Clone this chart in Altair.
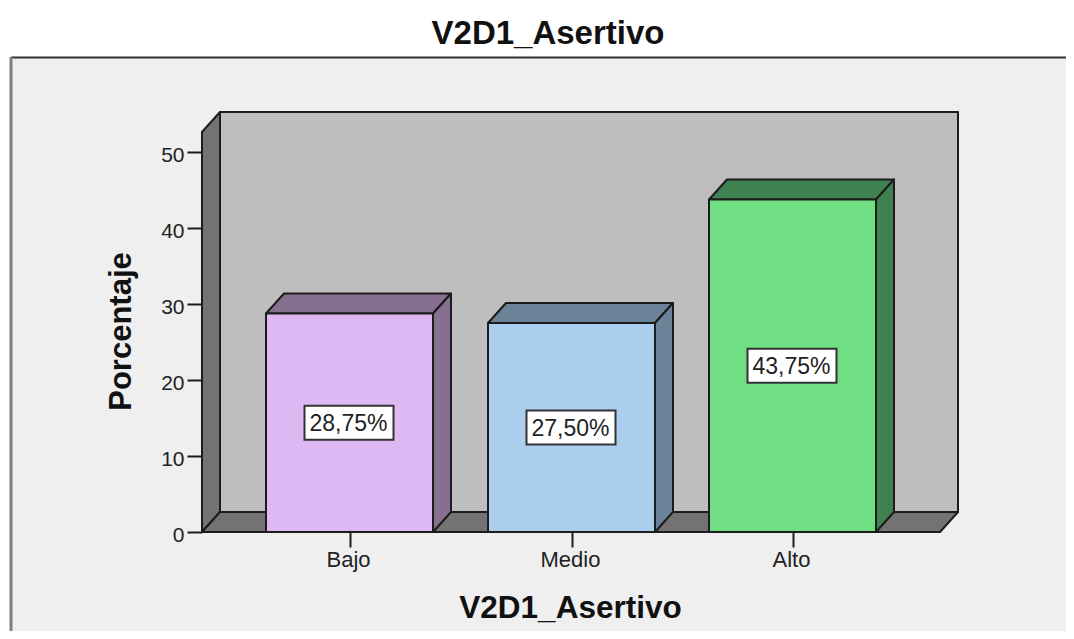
import altair as alt
import pandas as pd

categories = ["Bajo", "Medio", "Alto"]
values = [28.75, 27.50, 43.75]
labels = ["28,75%", "27,50%", "43,75%"]
front_colors = ["#DEB8F3", "#ABCEEE", "#70DE82"]
side_colors = ["#87708F", "#6B8299", "#3F8150"]
bar_left = [266, 488, 709]
y_ticks = [0, 10, 20, 30, 40, 50]

FONT = "Liberation Sans"
PX = 7.6            # pixels per percent unit
W, H = 756, 420
X0 = 202            # image x of plot-left
DX, DY = 18, 20 / PX  # 3D depth
BAR_W = 167
XMAX = X0 + W
YMAX = H / PX
LINE = "#1c1c1c"


def yimg(p):
    return (532 - p) / PX


x_scale = alt.Scale(domain=[X0, XMAX], nice=False, zero=False)
y_scale = alt.Scale(domain=[0, YMAX], nice=False)

centers = [l + BAR_W / 2 for l in bar_left]

frame = alt.Chart(pd.DataFrame([{"x": 11, "x2": 1080, "y": yimg(57), "y2": yimg(645)}])).mark_rect(
    fill="#EFEFEF", stroke=None
).encode(
    x=alt.X("x:Q", scale=x_scale, axis=alt.Axis(
        values=centers,
        labelExpr="{" + ",".join(f"'{c}':'{n}'" for c, n in zip(centers, categories)) + "}[datum.value]",
        domain=False, ticks=True, tickSize=15, tickWidth=2, tickColor=LINE, grid=False,
        labelFont=FONT, labelFontSize=22, labelColor="#222",
        labelPadding=2, labelOffset=-1.5, zindex=1,
        title="V2D1_Asertivo", titleFont=FONT, titleFontSize=31.5, titleFontWeight="bold", titleColor="#111",
        titleX=368, titleY=76, titleBaseline="middle",
    )),
    x2="x2:Q",
    y=alt.Y("y:Q", scale=y_scale, axis=alt.Axis(
        values=y_ticks, domain=False, grid=False, tickSize=15, tickWidth=2, tickColor=LINE,
        labelFont=FONT, labelFontSize=21, labelColor="#222", labelPadding=3, labelOffset=3, zindex=1,
        title="Porcentaje", titleFont=FONT, titleFontSize=31, titleFontWeight="bold", titleColor="#111",
        titleX=-65, titleY=219,
    )),
    y2="y2:Q",
)

frame_top = alt.Chart(pd.DataFrame([{"x": 11, "x2": 1080, "y": yimg(57.5)}])).mark_rule(
    color="#333333", strokeWidth=2
).encode(x=alt.X("x:Q", scale=x_scale), x2="x2:Q", y=alt.Y("y:Q", scale=y_scale))

frame_left = alt.Chart(pd.DataFrame([{"x": 11, "y": yimg(57), "y2": yimg(645)}])).mark_rule(
    color="#808080", strokeWidth=3
).encode(x=alt.X("x:Q", scale=x_scale), y=alt.Y("y:Q", scale=y_scale), y2="y2:Q")


def polygon(points, fill):
    df = pd.DataFrame(points + points[:1], columns=["x", "y"])
    df["o"] = range(len(df))
    return alt.Chart(df).mark_line(fill=fill, stroke=LINE, strokeWidth=2, strokeJoin="round").encode(
        x=alt.X("x:Q", scale=x_scale),
        y=alt.Y("y:Q", scale=y_scale),
        order="o:Q",
    )


def top_face(xl, xr, level, fill):
    return polygon([(xl, level), (xl + DX, level + DY), (xr + DX, level + DY), (xr, level)], fill)


def side_face(x, low, high, fill):
    return polygon([(x, low), (x, high), (x + DX, high + DY), (x + DX, low + DY)], fill)


faces = [
    polygon([(X0 + DX, DY), (X0 + DX, YMAX), (XMAX, YMAX), (XMAX, DY)], "#BEBEBE"),
    side_face(X0, 0, YMAX - DY, "#737373"),
    top_face(X0, XMAX - DX, 0, "#737373"),
]
for i in range(len(categories)):
    faces.append(top_face(bar_left[i], bar_left[i] + BAR_W, values[i], side_colors[i]))
    faces.append(side_face(bar_left[i] + BAR_W, 0, values[i], side_colors[i]))

bars_df = pd.DataFrame({
    "left": bar_left,
    "right": [l + BAR_W for l in bar_left],
    "v": values,
    "zero": [0, 0, 0],
    "fill": front_colors,
    "label": labels,
    "c": centers,
    "mid": [v / 2 for v in values],
})
bars_df["bl"] = bars_df["c"] - 45
bars_df["br"] = bars_df["c"] + 44
bars_df["bb"] = bars_df["mid"] - 17 / PX
bars_df["bt"] = bars_df["mid"] + 17 / PX

bars = alt.Chart(bars_df).mark_rect(stroke=LINE, strokeWidth=2).encode(
    x=alt.X("left:Q", scale=x_scale), x2="right:Q",
    y=alt.Y("zero:Q", scale=y_scale), y2="v:Q",
    fill=alt.Fill("fill:N", scale=None),
)
boxes = alt.Chart(bars_df).mark_rect(fill="white", stroke="#333333", strokeWidth=2).encode(
    x=alt.X("bl:Q", scale=x_scale), x2="br:Q",
    y=alt.Y("bb:Q", scale=y_scale), y2="bt:Q",
)
texts = alt.Chart(bars_df).mark_text(font=FONT, fontSize=23, color="#222", baseline="middle", align="center", dx=-1, dy=1).encode(
    x=alt.X("c:Q", scale=x_scale),
    y=alt.Y("mid:Q", scale=y_scale),
    text="label:N",
)

chart = alt.layer(frame, frame_top, frame_left, *faces, bars, boxes, texts).properties(
    width=W, height=H,
    title=alt.TitleParams("V2D1_Asertivo", font=FONT, fontSize=33, fontWeight="bold", color="#111", anchor="middle", dx=-32, offset=5),
    autosize=alt.AutoSizeParams(type="none"),
    padding={"left": X0 - 8, "top": 104, "right": 108, "bottom": 99},
).configure_view(stroke=None).configure(background="white")

chart.save("out.html", embed_options={"renderer": "svg", "actions": False})
